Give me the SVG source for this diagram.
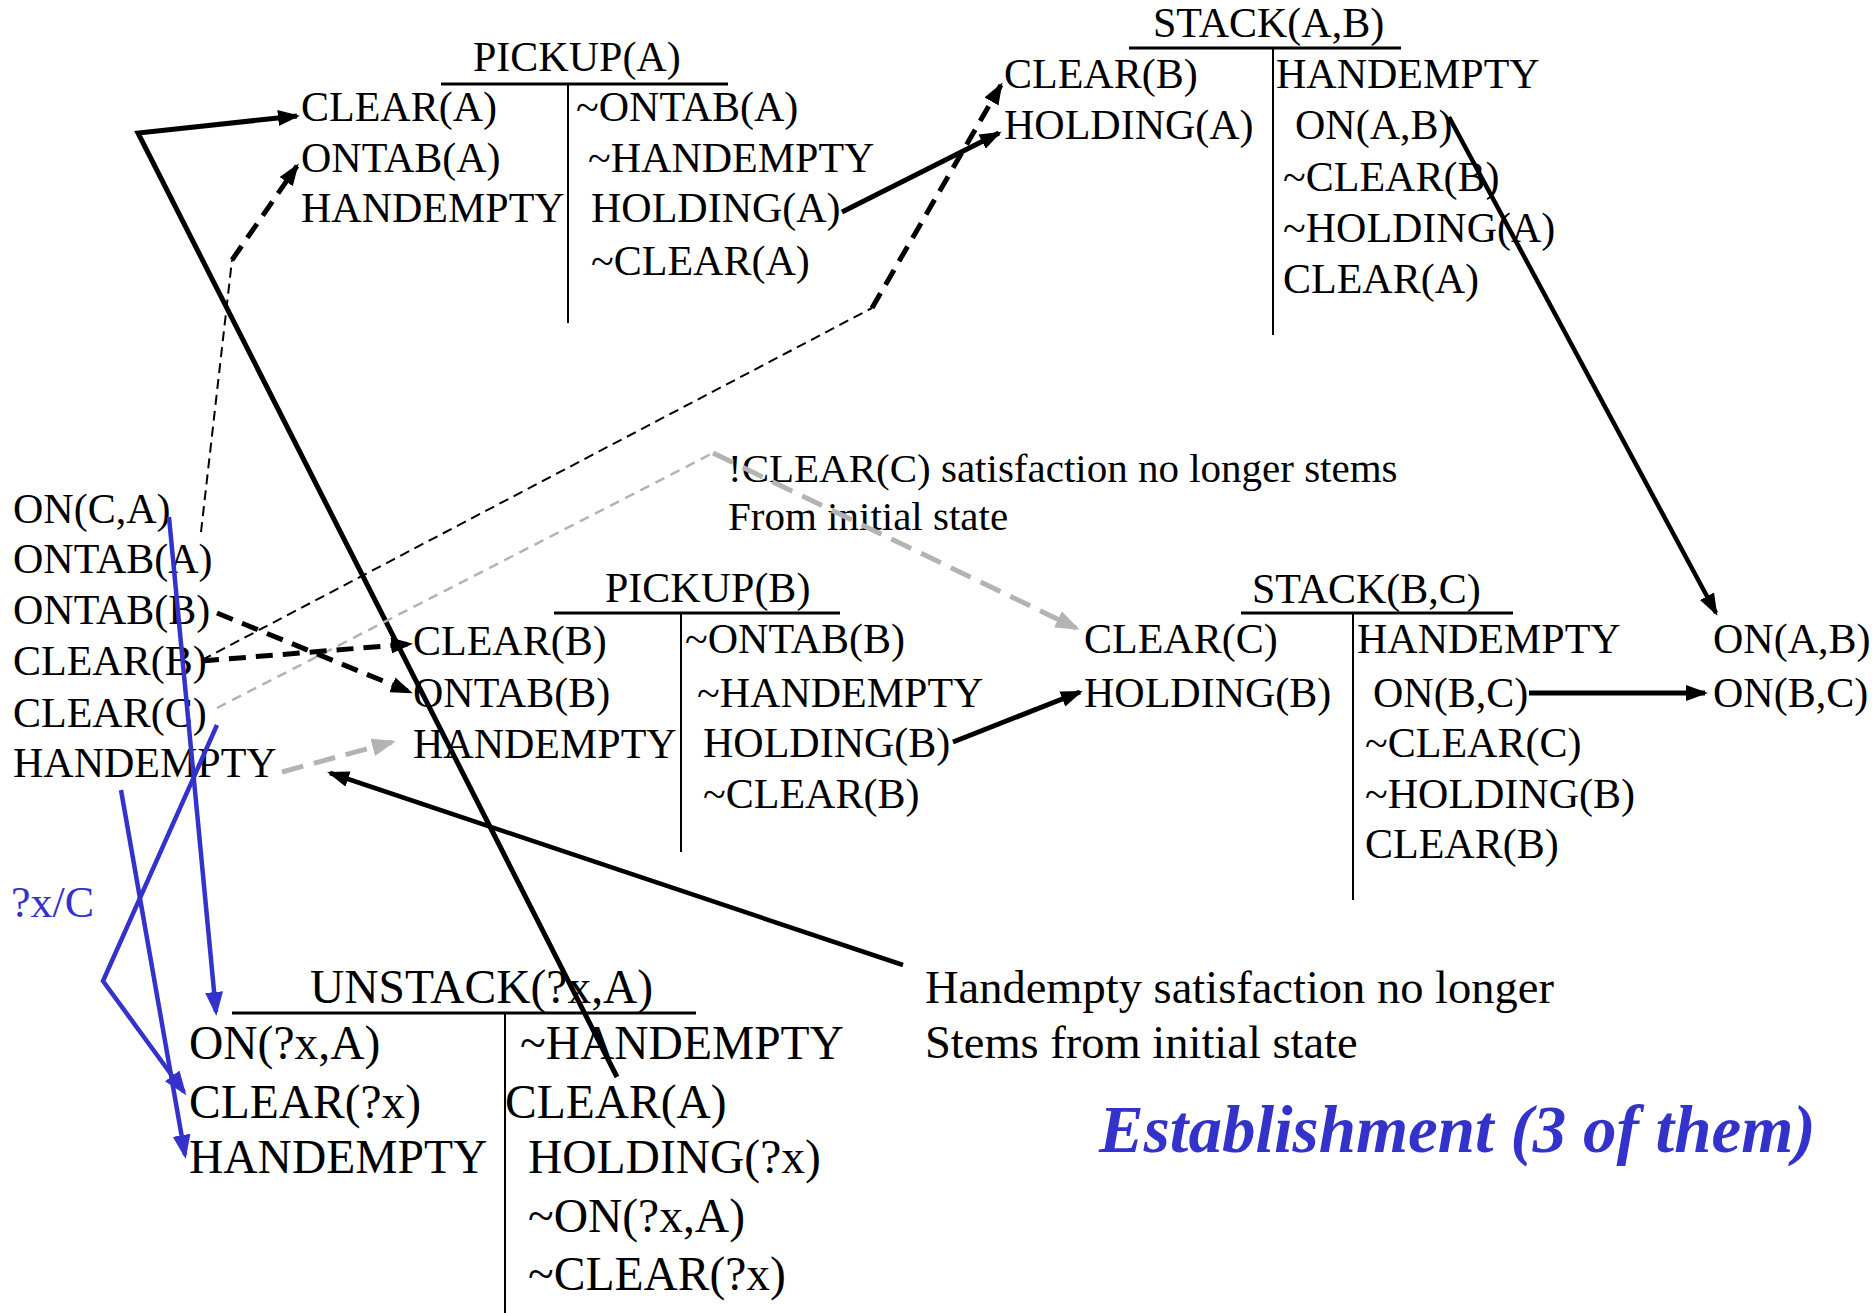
<svg xmlns="http://www.w3.org/2000/svg" width="1875" height="1313" viewBox="0 0 1875 1313">
  <style>
    text { font-family: "Liberation Serif", "Times New Roman", serif; fill: #000; }
    .t { font-size: 42px; }
    .tu { font-size: 47.5px; }
    .note { font-size: 41px; }
    .note2 { font-size: 46.5px; }
    .blue { fill: #3333cc; }
    .title-big { font-size: 67px; font-weight: bold; font-style: italic; fill: #3333cc; }
    .hbar { stroke: #000; stroke-width: 3; fill: none; }
    .vbar { stroke: #000; stroke-width: 2; fill: none; }
    .solid { stroke: #000; stroke-width: 5; fill: none; }
    .solid-m { stroke: #000; stroke-width: 4.5; fill: none; }
    .dash-thin { stroke: #000; stroke-width: 2; fill: none; stroke-dasharray: 10 6; }
    .dash-thick { stroke: #000; stroke-width: 5; fill: none; stroke-dasharray: 17 10; }
    .gray-thin { stroke: #b3b3b3; stroke-width: 2.5; fill: none; stroke-dasharray: 10 7; }
    .gray-thick { stroke: #b3b3b3; stroke-width: 5; fill: none; stroke-dasharray: 22 11; }
    .bl { stroke: #3333cc; stroke-width: 4.5; fill: none; stroke-linejoin: miter; }
  </style>
  <defs>
    <marker id="ah" markerUnits="userSpaceOnUse" markerWidth="24" markerHeight="18" refX="19" refY="8" orient="auto">
      <path d="M0,0 L22,8 L0,16 Z" fill="#000"/>
    </marker>
    <marker id="ah-gray" markerUnits="userSpaceOnUse" markerWidth="26" markerHeight="20" refX="20" refY="9" orient="auto">
      <path d="M0,0 L24,9 L0,18 Z" fill="#b3b3b3"/>
    </marker>
    <marker id="ah-blue" markerUnits="userSpaceOnUse" markerWidth="26" markerHeight="20" refX="20" refY="9" orient="auto">
      <path d="M0,0 L24,9 L0,18 Z" fill="#3333cc"/>
    </marker>
  </defs>

  <!-- initial state -->
  <g id="initial-state" class="t">
    <text x="13" y="523">ON(C,A)</text>
    <text x="13" y="573">ONTAB(A)</text>
    <text x="13" y="624">ONTAB(B)</text>
    <text x="13" y="675">CLEAR(B)</text>
    <text x="13" y="727">CLEAR(C)</text>
    <text x="13" y="777">HANDEMPTY</text>
  </g>

  <!-- PICKUP(A) step -->
  <g id="pickup-a" class="t">
    <text x="473" y="71">PICKUP(A)</text>
    <line class="hbar" x1="441" y1="84" x2="728" y2="84"/>
    <line class="vbar" x1="568" y1="84" x2="568" y2="323"/>
    <text x="301" y="121">CLEAR(A)</text>
    <text x="301" y="172">ONTAB(A)</text>
    <text x="301" y="222">HANDEMPTY</text>
    <text x="576" y="121">~ONTAB(A)</text>
    <text x="588" y="172">~HANDEMPTY</text>
    <text x="591" y="222">HOLDING(A)</text>
    <text x="591" y="275">~CLEAR(A)</text>
  </g>

  <!-- STACK(A,B) step -->
  <g id="stack-ab" class="t">
    <text x="1153" y="37">STACK(A,B)</text>
    <line class="hbar" x1="1129" y1="48" x2="1401" y2="48"/>
    <line class="vbar" x1="1273" y1="48" x2="1273" y2="335"/>
    <text x="1004" y="88">CLEAR(B)</text>
    <text x="1004" y="139">HOLDING(A)</text>
    <text x="1276" y="88">HANDEMPTY</text>
    <text x="1295" y="139">ON(A,B)</text>
    <text x="1283" y="191">~CLEAR(B)</text>
    <text x="1283" y="242">~HOLDING(A)</text>
    <text x="1283" y="293">CLEAR(A)</text>
  </g>

  <!-- PICKUP(B) step -->
  <g id="pickup-b" class="t">
    <text x="605" y="602">PICKUP(B)</text>
    <line class="hbar" x1="554" y1="613" x2="840" y2="613"/>
    <line class="vbar" x1="681" y1="613" x2="681" y2="852"/>
    <text x="413" y="655">CLEAR(B)</text>
    <text x="413" y="707">ONTAB(B)</text>
    <text x="413" y="758">HANDEMPTY</text>
    <text x="685" y="653">~ONTAB(B)</text>
    <text x="697" y="707">~HANDEMPTY</text>
    <text x="703" y="757">HOLDING(B)</text>
    <text x="703" y="808">~CLEAR(B)</text>
  </g>

  <!-- STACK(B,C) step -->
  <g id="stack-bc" class="t">
    <text x="1252" y="603">STACK(B,C)</text>
    <line class="hbar" x1="1241" y1="613" x2="1513" y2="613"/>
    <line class="vbar" x1="1353" y1="613" x2="1353" y2="900"/>
    <text x="1084" y="653">CLEAR(C)</text>
    <text x="1084" y="707">HOLDING(B)</text>
    <text x="1357" y="653">HANDEMPTY</text>
    <text x="1373" y="707">ON(B,C)</text>
    <text x="1365" y="757">~CLEAR(C)</text>
    <text x="1365" y="808">~HOLDING(B)</text>
    <text x="1365" y="858">CLEAR(B)</text>
  </g>

  <!-- goal -->
  <g id="goal" class="t">
    <text x="1713" y="653">ON(A,B)</text>
    <text x="1713" y="707">ON(B,C)</text>
  </g>

  <!-- UNSTACK(?x,A) step -->
  <g id="unstack-xa" class="tu">
    <text x="310" y="1003">UNSTACK(?x,A)</text>
    <line class="hbar" x1="232" y1="1013" x2="696" y2="1013"/>
    <line class="vbar" x1="505" y1="1013" x2="505" y2="1313"/>
    <text x="189" y="1059">ON(?x,A)</text>
    <text x="189" y="1118">CLEAR(?x)</text>
    <text x="189" y="1173">HANDEMPTY</text>
    <text x="520" y="1059">~HANDEMPTY</text>
    <text x="505" y="1118">CLEAR(A)</text>
    <text x="528" y="1173">HOLDING(?x)</text>
    <text x="528" y="1232">~ON(?x,A)</text>
    <text x="528" y="1290">~CLEAR(?x)</text>
  </g>

  <!-- annotations -->
  <g id="note-clear-c" class="note">
    <text x="728" y="482">!CLEAR(C) satisfaction no longer stems</text>
    <text x="728" y="530">From initial state</text>
  </g>
  <g id="note-handempty" class="note2">
    <text x="925" y="1003">Handempty satisfaction no longer</text>
    <text x="925" y="1058">Stems from initial state</text>
  </g>
  <g id="binding">
    <text class="blue" x="11" y="917" font-size="44">?x/C</text>
  </g>
  <g id="caption">
    <text class="title-big" x="1099" y="1152">Establishment (3 of them)</text>
  </g>

  <!-- connectors -->
  <g id="connectors">
    <!-- UNSTACK CLEAR(A) establishes PICKUP(A) CLEAR(A) -->
    <path class="solid" d="M617,1077 L138,133 L297,116" marker-end="url(#ah)"/>
    <!-- initial ONTAB(A) to PICKUP(A) -->
    <path class="dash-thin" d="M201,532 L232,260"/>
    <path class="dash-thick" d="M232,260 L297,166" marker-end="url(#ah)"/>
    <!-- initial CLEAR(B) to STACK(A,B) -->
    <path class="dash-thin" d="M202,660 L872,308"/>
    <path class="dash-thick" d="M872,308 L1001,85" marker-end="url(#ah)"/>
    <!-- HOLDING(A) -->
    <path class="solid" d="M842,212 L999,133" marker-end="url(#ah)"/>
    <!-- ON(A,B) to goal -->
    <path class="solid-m" d="M1449,117 L1716,613" marker-end="url(#ah)"/>
    <!-- ON(B,C) to goal -->
    <path class="solid" d="M1529,693 L1705,693" marker-end="url(#ah)"/>
    <!-- HOLDING(B) -->
    <path class="solid" d="M953,742 L1080,692" marker-end="url(#ah)"/>
    <!-- initial CLEAR(C) to STACK(B,C) (grey) -->
    <path class="gray-thin" d="M217,708 L713,453"/>
    <path class="gray-thick" d="M713,453 L1076,628" marker-end="url(#ah-gray)"/>
    <!-- initial HANDEMPTY to PICKUP(B) (grey) -->
    <path class="gray-thick" d="M282,772 L392,742" marker-end="url(#ah-gray)"/>
    <!-- initial ONTAB(B) / CLEAR(B) to PICKUP(B) -->
    <path class="dash-thick" d="M217,613 L410,692" marker-end="url(#ah)"/>
    <path class="dash-thick" d="M202,661 L410,644" marker-end="url(#ah)"/>
    <!-- note pointer to initial HANDEMPTY -->
    <path class="solid-m" d="M903,965 L330,773" marker-end="url(#ah)"/>
    <!-- blue bindings into UNSTACK -->
    <path class="bl" d="M169,517 L216,1012" marker-end="url(#ah-blue)"/>
    <path class="bl" d="M217,725 L103,981 L184,1092" marker-end="url(#ah-blue)"/>
    <path class="bl" d="M121,790 L185,1155" marker-end="url(#ah-blue)"/>
  </g>
</svg>
